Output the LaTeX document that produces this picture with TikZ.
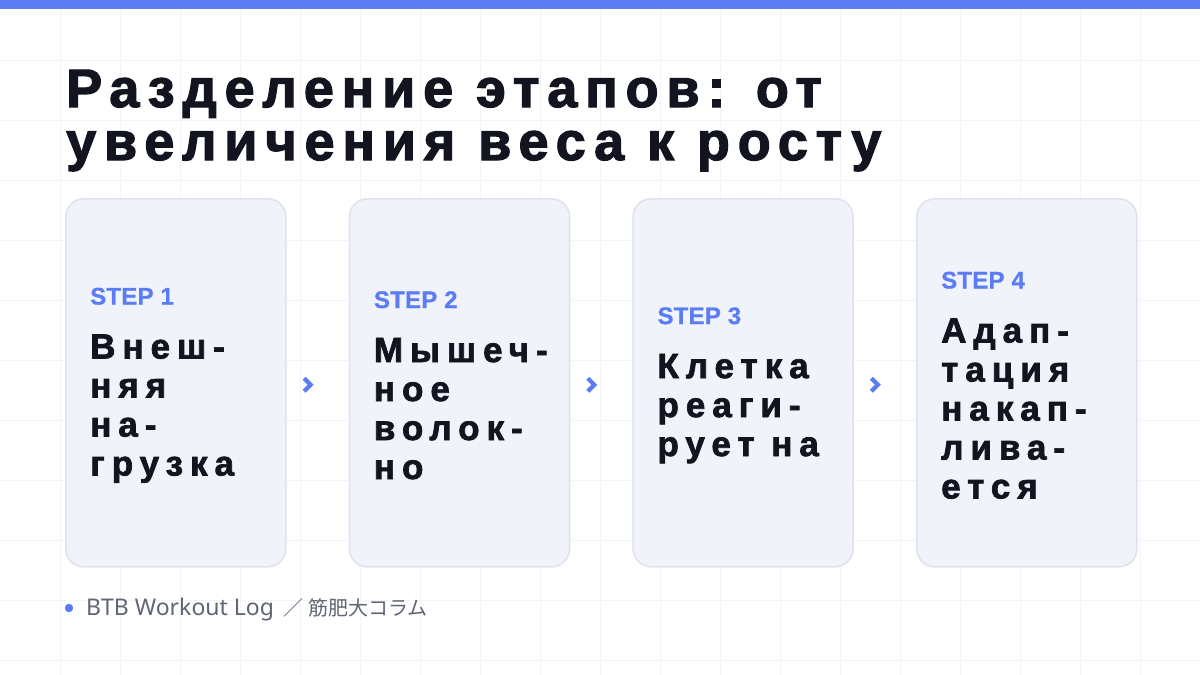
\documentclass[tikz,border=0pt]{standalone}
\usepackage{fontspec}
\usetikzlibrary{calc}
\setmainfont{Noto Sans}
\newfontfamily\titlefamily{Liberation Sans}[LetterSpace=14.5,BoldFeatures={FakeBold=2.2}]
\newfontfamily\bodyfamily{Liberation Sans}[LetterSpace=20,BoldFeatures={FakeBold=2}]
\newfontfamily\stepfamily{Liberation Sans}[LetterSpace=1,BoldFeatures={FakeBold=0.8}]
\newfontfamily\footfamily{Noto Sans}
\newfontfamily\cjkfont{Noto Sans CJK JP}
\definecolor{accent}{HTML}{5B7CF5}
\definecolor{ink}{HTML}{12141F}
\definecolor{cardfill}{HTML}{F1F3FA}
\definecolor{cardline}{HTML}{DFE3EF}
\definecolor{gridc}{HTML}{F3F4F7}
\definecolor{footc}{HTML}{5F6574}
\newcommand\stepfont{\fontsize{24}{28}\selectfont\stepfamily\bfseries\color{accent}}
\newcommand\bodyfont{\fontsize{35}{39}\selectfont\bodyfamily\bfseries\color{ink}}
\newcommand\cardtext[2]{\parbox{195pt}{\raggedright\stepfont #1\par\vspace{15pt}\bodyfont #2\par}}
\tikzset{
  card/.style={draw=cardline, line width=1.6pt, fill=cardfill, rounded corners=18pt,
    minimum width=220pt, minimum height=368pt, inner sep=0pt, anchor=north west},
  cardbody/.style={anchor=west, inner sep=0pt},
  chevron/.style={draw=accent, line width=4.2pt, miter limit=10},
  gridline/.style={draw=gridc, line width=1pt},
  titletext/.style={anchor=base west, inner sep=0pt, text=ink,
    font=\fontsize{54}{54}\selectfont\titlefamily\bfseries},
}
\begin{document}
\begin{tikzpicture}[x=1pt,y=-1pt]
\useasboundingbox (0,0) rectangle (1200,675);
\fill[white] (0,0) rectangle (1200,675);
\foreach \gx in {60,120,...,1180}{\draw[gridline] (\gx,0) -- (\gx,675);}
\foreach \gy in {60,120,...,660}{\draw[gridline] (0,\gy) -- (1200,\gy);}
\fill[accent] (0,0) rectangle (1200,9);
% title
\node[titletext] (t1) at (66,107) {Разделение этапов: от};
\node[titletext] (t2) at (66,160) {увеличения веса к росту};
% cards
\node[card] (c1) at (65,198) {};
\node[card] (c2) at (348.7,198) {};
\node[card] (c3) at (632.3,198) {};
\node[card] (c4) at (916,198) {};
\node[cardbody] (b1) at ($(c1.west)+(25,2.5)$) {\cardtext{STEP 1}{Внеш-\\няя\\на-\\грузка}};
\node[cardbody] (b2) at ($(c2.west)+(25,2.5)$) {\cardtext{STEP 2}{Мышеч-\\ное\\волок-\\но}};
\node[cardbody] (b3) at ($(c3.west)+(25,2.5)$) {\cardtext{STEP 3}{Клетка\\реаги-\\рует на}};
\node[cardbody] (b4) at ($(c4.west)+(25,2.5)$) {\cardtext{STEP 4}{Адап-\\тация\\накап-\\лива-\\ется}};
% chevrons
\foreach \a/\b in {c1/m1,c2/m2,c3/m3}{
  \coordinate (\b) at ($(\a.east)+(21,2)$);
  \draw[chevron] ($(\b)+(-3.5,-6.5)$) -- ($(\b)+(3,0)$) -- ($(\b)+(-3.5,6.5)$);
}
% footer
\fill[accent] (69,608) circle (4.2);
\node[anchor=base west, inner sep=0pt, text=footc] (foot) at (86,615)
  {\fontsize{23}{26}\selectfont\footfamily BTB Workout Log \,{\cjkfont\fontsize{20}{24}\selectfont ／ 筋肥大コラム}};
\end{tikzpicture}
\end{document}
